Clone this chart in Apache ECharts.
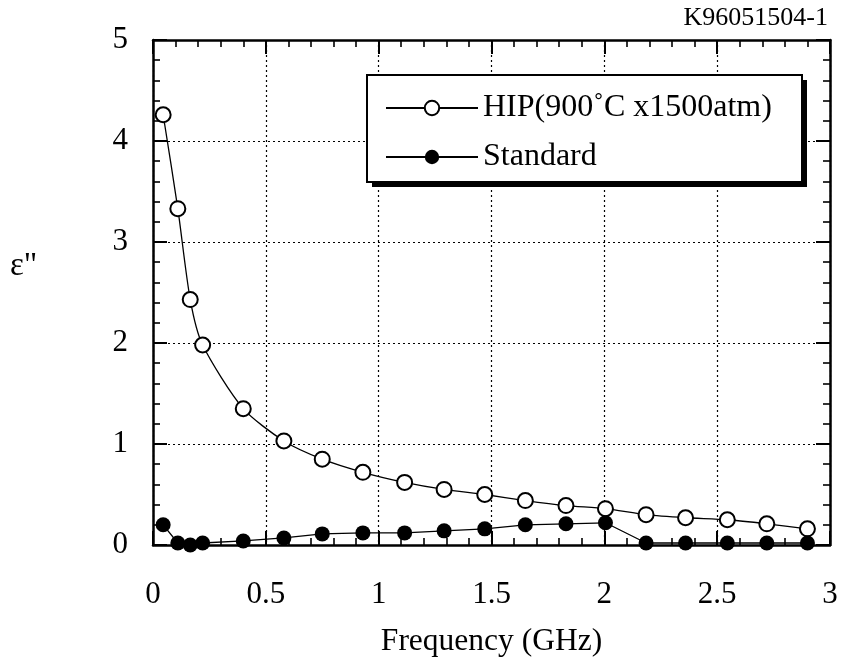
<!DOCTYPE html>
<html>
<head>
<meta charset="utf-8">
<script src="https://cdn.jsdelivr.net/npm/echarts@6/dist/echarts.min.js"></script>
<style>html,body{margin:0;padding:0;background:#fff;}#c{width:845px;height:667px;}</style>
</head>
<body>
<div id="c"></div>
<script>
const freq = [0.045,0.11,0.165,0.22,0.40,0.58,0.75,0.93,1.115,1.29,1.47,1.65,1.83,2.005,2.185,2.36,2.545,2.72,2.90];
const hip = [4.26,3.33,2.43,1.98,1.35,1.03,0.85,0.72,0.62,0.55,0.50,0.44,0.39,0.36,0.30,0.27,0.25,0.21,0.16];
const standard = [0.20,0.02,0.0,0.02,0.04,0.07,0.11,0.12,0.12,0.14,0.16,0.20,0.21,0.22,0.02,0.02,0.02,0.02,0.02];
const seriesNames = ['HIP(900˚C x1500atm)','Standard'];
const xTicks = {min:0,max:3,interval:0.5};
const yTicks = {min:0,max:5,interval:1};
const xName = 'Frequency (GHz)';
const yName = 'ε"';
const sampleId = 'K96051504-1';

const FONT = 'Liberation Serif';
const chart = echarts.init(document.getElementById('c'));
const tickCommon = {
  axisLine:{show:true,onZero:false,lineStyle:{color:'#000',width:2.5}},
  axisTick:{show:true,inside:true,length:14,lineStyle:{color:'#000',width:2}},
  minorTick:{show:true,splitNumber:5,length:7,lineStyle:{color:'#000',width:1.6}},
};
const zip = (xs, ys) => xs.map((x,i)=>[x, ys[i]]);
chart.setOption({
  animation:false,
  backgroundColor:'#fff',
  title:{text:sampleId,right:12,top:0,textStyle:{fontFamily:FONT,fontSize:26,fontWeight:'normal',color:'#000'}},
  grid:{left:153,right:15,top:40,bottom:122},
  graphic:[
    {type:'rect',z:5,shape:{x:372,y:80,width:435,height:107},style:{fill:'#000'}},
    {type:'rect',z:6,shape:{x:367,y:75,width:435,height:107},style:{fill:'#fff',stroke:'#000',lineWidth:2}},
    {type:'text',left:10,top:250,style:{text:yName,font:'33px "Liberation Serif"',fill:'#000'}}
  ],
  legend:{
    orient:'vertical',left:380,top:87,z:10,
    itemWidth:92,itemHeight:18,itemGap:17,
    textStyle:{fontFamily:FONT,fontSize:32,color:'#000'},
    data:seriesNames
  },
  xAxis:[
    Object.assign({type:'value',position:'bottom',min:xTicks.min,max:xTicks.max,interval:xTicks.interval,
      name:xName,nameLocation:'middle',nameGap:81,
      nameTextStyle:{fontFamily:FONT,fontSize:31.5,color:'#000'},
      axisLabel:{fontFamily:FONT,fontSize:31,color:'#000',margin:34},
      splitLine:{show:true,lineStyle:{color:'#000',type:[2,3],width:1.2}}},tickCommon),
    Object.assign({type:'value',position:'top',min:xTicks.min,max:xTicks.max,interval:xTicks.interval,
      axisLabel:{show:false},splitLine:{show:false}},tickCommon)
  ],
  yAxis:[
    Object.assign({type:'value',position:'left',min:yTicks.min,max:yTicks.max,interval:yTicks.interval,
      axisLabel:{fontFamily:FONT,fontSize:31,color:'#000',margin:25},
      splitLine:{show:true,lineStyle:{color:'#000',type:[2,3],width:1.2}}},tickCommon),
    Object.assign({type:'value',position:'right',min:yTicks.min,max:yTicks.max,interval:yTicks.interval,
      axisLabel:{show:false},splitLine:{show:false}},tickCommon)
  ],
  series:[
    {name:seriesNames[0],type:'line',data:zip(freq,hip),smooth:0.25,z:3,
      symbol:'emptyCircle',symbolSize:15,
      lineStyle:{color:'#000',width:1.3},itemStyle:{color:'#000',borderWidth:1.3,borderColor:'#000'}},
    {name:seriesNames[1],type:'line',data:zip(freq,standard),z:3,clip:false,
      symbol:'circle',symbolSize:15,
      lineStyle:{color:'#000',width:1.3},itemStyle:{color:'#000'}}
  ]
});
</script>
</body>
</html>
